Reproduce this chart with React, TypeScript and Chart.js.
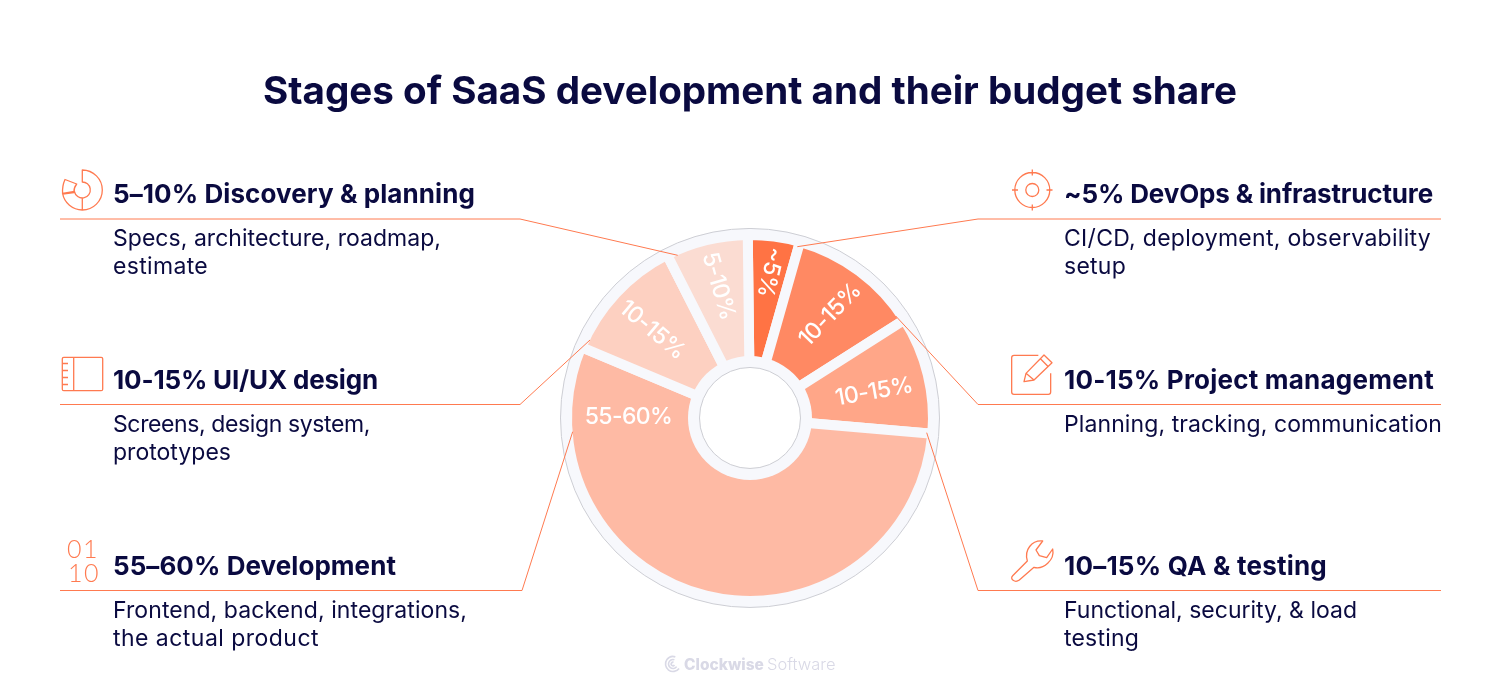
import { useEffect, useRef } from 'react';
import { Chart, registerables } from 'chart.js';

Chart.register(...registerables);

const FONT = 'Inter';
const NAVY = '#0a0a40';
const ORANGE = '#ff7a50';
const DISC = '#f7f8fc';

// slices, clockwise from the top (share of the circle)
const stages = ['DevOps & infrastructure', 'Project management', 'QA & testing', 'Development', 'UI/UX design', 'Discovery & planning'];
const shares = [4.6, 11.6, 10.4, 55, 11.2, 7.3];
const sliceLabels = ['~5%', '10-15%', '10-15%', '55-60%', '10-15%', '5-10%'];
const sliceColors = ['#ff7344', '#ff8963', '#ffa688', '#febaa4', '#fdd0c1', '#fbdcd2'];

// where each slice label sits: offset from the centre, and text rotation in degrees
const labelOffsets = [[20, -146], [80, -103], [124, -26], [-121.5, -1], [-98, -88], [-31.5, -132]];
const labelRotations = [103, -46, -10, 0, 40, 74];

// widths are what the lines measure in the reference, the text is tracked to fit
const callouts = [
  { x: 113, y: 203, head: ['5–10% Discovery & planning', 362], lines: [['Specs, architecture, roadmap,', 328], ['estimate', 95]] },
  { x: 113, y: 389, head: ['10-15% UI/UX design', 265], lines: [['Screens, design system,', 257], ['prototypes', 118]] },
  { x: 113, y: 575, head: ['55–60% Development', 283], lines: [['Frontend, backend, integrations,', 354], ['the actual product', 206]] },
  { x: 1064, y: 203, head: ['~5% DevOps & infrastructure', 369], lines: [['CI/CD, deployment, observability', 367], ['setup', 62]] },
  { x: 1064, y: 389, head: ['10-15% Project management', 370], lines: [['Planning, tracking, communication', 378]] },
  { x: 1064, y: 575, head: ['10–15% QA & testing', 263], lines: [['Functional, security, & load', 293], ['testing', 75]] },
] as { x: number; y: number; head: [string, number]; lines: [string, number][] }[];

const leaders = [
  [[60, 219], [520, 219], [677.7, 255.3]],
  [[60, 404.5], [520, 404.5], [590, 340]],
  [[60, 590.5], [522, 590.5], [572.7, 431.7]],
  [[1441, 219], [978, 219], [797.3, 246.7]],
  [[1441, 404.5], [978, 404.5], [895.7, 316]],
  [[1441, 590.5], [978, 590.5], [926.7, 432.7]],
];

function fillFitted(ctx: CanvasRenderingContext2D, text: string, x: number, y: number, width: number) {
  (ctx as any).letterSpacing = '0px';
  const extra = (width - ctx.measureText(text).width) / text.length;
  (ctx as any).letterSpacing = `${extra}px`;
  ctx.fillText(text, x, y);
}

// the pale disc behind the slices, with its hole
const backdrop = {
  id: 'backdrop',
  beforeDatasetsDraw(chart: Chart) {
    const { ctx, chartArea } = chart;
    const cx = (chartArea.left + chartArea.right) / 2;
    const cy = (chartArea.top + chartArea.bottom) / 2;
    ctx.save();
    ctx.beginPath();
    ctx.arc(cx, cy, 189.5, 0, Math.PI * 2);
    ctx.fillStyle = DISC;
    ctx.fill();
    ctx.strokeStyle = '#cdced4';
    ctx.lineWidth = 1;
    ctx.stroke();
    ctx.restore();
  },
  afterDatasetsDraw(chart: Chart) {
    const { ctx, chartArea } = chart;
    const cx = (chartArea.left + chartArea.right) / 2;
    const cy = (chartArea.top + chartArea.bottom) / 2;
    ctx.save();
    ctx.beginPath();
    ctx.arc(cx, cy, 62, 0, Math.PI * 2);
    ctx.fillStyle = DISC;
    ctx.fill();
    ctx.beginPath();
    ctx.arc(cx, cy, 50.5, 0, Math.PI * 2);
    ctx.fillStyle = '#ffffff';
    ctx.fill();
    ctx.strokeStyle = '#cdced4';
    ctx.lineWidth = 1;
    ctx.stroke();
    // white labels on the slices
    ctx.fillStyle = '#ffffff';
    ctx.font = `500 23px ${FONT}`;
    ctx.textAlign = 'center';
    ctx.textBaseline = 'middle';
    (ctx as any).letterSpacing = '-0.6px';
    sliceLabels.forEach((label, i) => {
      ctx.save();
      ctx.translate(cx + labelOffsets[i][0], cy + labelOffsets[i][1]);
      ctx.rotate((labelRotations[i] * Math.PI) / 180);
      ctx.fillText(label, 0, 0);
      ctx.restore();
    });
    ctx.restore();
  },
};

function drawIcons(ctx: CanvasRenderingContext2D) {
  ctx.save();
  ctx.strokeStyle = ORANGE;
  ctx.lineWidth = 1.3;
  ctx.lineJoin = 'round';

  // discovery: small donut with a loose wedge
  const r = Math.PI / 180;
  ctx.beginPath();
  ctx.arc(82.3, 190, 20, -90 * r, 170 * r);
  ctx.lineTo(82.3 + 8 * Math.cos(170 * r), 190 + 8 * Math.sin(170 * r));
  ctx.arc(82.3, 190, 8, 170 * r, -90 * r, true);
  ctx.closePath();
  ctx.moveTo(82.3, 198);
  ctx.lineTo(82.3, 210);
  ctx.moveTo(65, 179.5);
  ctx.quadraticCurveTo(62, 186, 62.6, 194);
  ctx.lineTo(74, 192.5);
  ctx.quadraticCurveTo(73.5, 188, 76.7, 184);
  ctx.closePath();
  ctx.stroke();

  // ui/ux: wireframe page
  ctx.beginPath();
  ctx.roundRect(62.3, 357.3, 40.4, 33.4, 1.5);
  ctx.moveTo(73.7, 357.3);
  ctx.lineTo(73.7, 390.7);
  [363.5, 370.5, 377.5, 384.5].forEach((y) => {
    ctx.moveTo(62.3, y);
    ctx.lineTo(68, y);
  });
  ctx.stroke();

  // devops: target
  ctx.beginPath();
  ctx.arc(1032.3, 190, 17.5, 0, Math.PI * 2);
  ctx.moveTo(1038.8, 190);
  ctx.arc(1032.3, 190, 6.5, 0, Math.PI * 2);
  ctx.moveTo(1032.3, 169.5);
  ctx.lineTo(1032.3, 175.5);
  ctx.moveTo(1032.3, 204.5);
  ctx.lineTo(1032.3, 210.5);
  ctx.moveTo(1012, 190);
  ctx.lineTo(1018, 190);
  ctx.moveTo(1046.5, 190);
  ctx.lineTo(1052.5, 190);
  ctx.stroke();

  // project management: square and pencil
  ctx.save();
  ctx.translate(1000, 350);
  ctx.scale(1 / 3, 1 / 3);
  ctx.lineWidth = 3.9;
  ctx.stroke(new Path2D('M115 16 H42 Q35 16 35 23 V126 Q35 133 42 133 H145 Q152 133 152 126 V70'));
  ctx.stroke(new Path2D('M72 95 L78 70 L132 15 L156 38 L102 90 Z M78 70 L102 90 M122 27 L145 50'));
  ctx.restore();

  // qa: wrench
  ctx.save();
  ctx.translate(1000, 535);
  ctx.scale(1 / 3, 1 / 3);
  ctx.lineWidth = 3.9;
  ctx.stroke(new Path2D('M38 122 L82 78 C72 45 95 15 128 18 L108 45 L118 62 L140 68 L158 42 C165 75 130 105 102 97 L58 135 C45 145 28 132 38 122 Z'));
  ctx.restore();

  // development: binary digits
  ctx.fillStyle = ORANGE;
  ctx.font = `300 25px Lato`;
  ctx.textAlign = 'left';
  ctx.textBaseline = 'alphabetic';
  (ctx as any).letterSpacing = '1.5px';
  ctx.fillText('01', 67, 558);
  ctx.fillText('10', 68, 582);
  ctx.restore();
}

const annotations = {
  id: 'annotations',
  afterDraw(chart: Chart) {
    const { ctx } = chart;
    ctx.save();
    ctx.strokeStyle = ORANGE;
    ctx.lineWidth = 1;
    leaders.forEach((pts) => {
      ctx.beginPath();
      pts.forEach(([x, y], i) => (i ? ctx.lineTo(x, y) : ctx.moveTo(x, y)));
      ctx.stroke();
    });
    drawIcons(ctx);

    ctx.textAlign = 'left';
    ctx.textBaseline = 'alphabetic';
    ctx.fillStyle = NAVY;
    callouts.forEach((c) => {
      ctx.font = `700 26px ${FONT}`;
      fillFitted(ctx, c.head[0], c.x, c.y, c.head[1]);
      ctx.font = `400 23px ${FONT}`;
      c.lines.forEach(([line, width], i) => fillFitted(ctx, line, c.x, c.y + 42.5 + i * 28, width));
    });

    // footer mark
    ctx.fillStyle = '#d9d9e6';
    ctx.font = `800 15.5px ${FONT}`;
    (ctx as any).letterSpacing = '0px';
    ctx.fillText('Clockwise', 684, 670);
    ctx.font = `300 16.5px ${FONT}`;
    ctx.fillText('Software', 767, 670);
    ctx.strokeStyle = '#d9d9e6';
    ctx.lineWidth = 1.6;
    [7.5, 4.5, 1.8].forEach((rad) => {
      ctx.beginPath();
      ctx.arc(673, 664, rad, 0.2 * Math.PI, 1.6 * Math.PI);
      ctx.stroke();
    });
    ctx.restore();
  },
};

export default function App() {
  const chartRef = useRef<HTMLCanvasElement>(null);

  useEffect(() => {
    const canvas = chartRef.current;
    if (!canvas) return;

    const chart = new Chart(canvas, {
      type: 'doughnut',
      data: {
        labels: stages,
        datasets: [
          {
            data: shares,
            backgroundColor: sliceColors,
            // the gaps are a thick border in the colour of the disc
            borderColor: DISC,
            borderWidth: 10,
            borderJoinStyle: 'miter',
          },
        ],
      },
      options: {
        responsive: false,
        animation: false,
        radius: 183,
        cutout: 57,
        rotation: -0.7,
        layout: { padding: { bottom: 64 } },
        plugins: {
          legend: { display: false },
          tooltip: { enabled: false },
          title: {
            display: true,
            text: 'Stages of SaaS development and their budget share',
            color: NAVY,
            font: { family: FONT, size: 38.6, weight: 700 },
            padding: { top: 69, bottom: 84.6 },
          },
        },
      },
      plugins: [backdrop, annotations],
    });

    return () => chart.destroy();
  }, []);

  return (
    <div style={{ position: 'absolute', left: 0, top: 0, width: 1500, height: 700, background: '#fff' }}>
      <canvas ref={chartRef} width={1500} height={700} />
    </div>
  );
}
